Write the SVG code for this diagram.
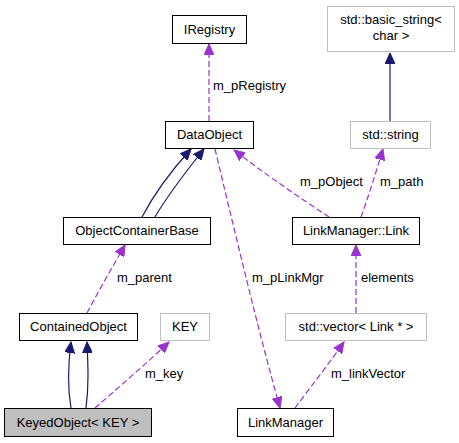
<svg xmlns="http://www.w3.org/2000/svg" width="459" height="443" viewBox="0 0 459 443">
<style>
text{font-family:"Liberation Sans",Arial,sans-serif;font-size:13px;fill:#000}
.n rect{fill:#fff;stroke:#000;stroke-width:1}
.g rect{fill:#fff;stroke:#bfbfbf;stroke-width:1}
.cur rect{fill:#bfbfbf;stroke:#000}
.inh{fill:none;stroke:#191970;stroke-width:1.2}
.use{fill:none;stroke:#9a32cd;stroke-width:1.2;stroke-dasharray:6,3}
.m text{text-anchor:middle}
</style>
<defs>
<marker id="ai" markerUnits="userSpaceOnUse" markerWidth="12" markerHeight="10" refX="11" refY="5" orient="auto">
<path d="M0,0 L11,5 L0,10 Z" fill="#191970" stroke="#191970" stroke-width="1"/>
</marker>
<marker id="au" markerUnits="userSpaceOnUse" markerWidth="12" markerHeight="10" refX="11" refY="5" orient="auto">
<path d="M0,0 L11,5 L0,10 Z" fill="#9a32cd" stroke="#9a32cd" stroke-width="1"/>
</marker>
</defs>
<rect width="459" height="443" fill="#fff"/>
<g id="edges">
<path class="use" d="M209,121 L209,44" marker-end="url(#au)"/>
<path class="inh" d="M390,121 L390,53" marker-end="url(#ai)"/>
<path class="inh" d="M142,217 C152,198 170,172 191,149" marker-end="url(#ai)"/>
<path class="inh" d="M155,217 C166,198 184,174 204,149" marker-end="url(#ai)"/>
<path class="use" d="M329,217 C300,198 262,172 234,150" marker-end="url(#au)"/>
<path class="use" d="M361,217 C368,198 376,172 383,149" marker-end="url(#au)"/>
<path class="use" d="M215,149 C232,220 258,330 280,408" marker-end="url(#au)"/>
<path class="use" d="M356,313 L356,245" marker-end="url(#au)"/>
<path class="use" d="M87,313 C98,292 113,266 125,245" marker-end="url(#au)"/>
<path class="inh" d="M71,408 C67,385 68,365 71,342" marker-end="url(#ai)"/>
<path class="inh" d="M86,408 C89,385 88,365 87,342" marker-end="url(#ai)"/>
<path class="use" d="M95,408 C118,388 148,362 169,342" marker-end="url(#au)"/>
<path class="use" d="M295,408 C310,388 330,362 344,342" marker-end="url(#au)"/>
<text x="213" y="90">m_pRegistry</text>
<text x="300" y="186">m_pObject</text>
<text x="380" y="186">m_path</text>
<text x="117" y="282">m_parent</text>
<text x="252" y="282">m_pLinkMgr</text>
<text x="361" y="282">elements</text>
<text x="145" y="378">m_key</text>
<text x="331" y="378">m_linkVector</text>
</g>
<g id="IRegistry" class="n m"><rect x="172.5" y="15.5" width="74" height="28"/><text x="209.5" y="34">IRegistry</text></g>
<g id="basic_string" class="g m"><rect x="327.5" y="6.5" width="127" height="45"/><text x="391" y="24">std::basic_string&lt;</text><text x="391" y="40">char &gt;</text></g>
<g id="DataObject" class="n m"><rect x="165.5" y="121.5" width="88" height="27"/><text x="209.5" y="139">DataObject</text></g>
<g id="string" class="g m"><rect x="350.5" y="121.5" width="80" height="27"/><text x="390.5" y="139">std::string</text></g>
<g id="ObjectContainerBase" class="n m"><rect x="63.5" y="217.5" width="147" height="27"/><text x="137" y="235">ObjectContainerBase</text></g>
<g id="Link" class="n m"><rect x="292.5" y="217.5" width="127" height="27"/><text x="356" y="235">LinkManager::Link</text></g>
<g id="ContainedObject" class="n m"><rect x="19.5" y="313.5" width="118" height="27"/><text x="78.5" y="331">ContainedObject</text></g>
<g id="KEY" class="g m"><rect x="160.5" y="313.5" width="49" height="27"/><text x="185" y="331">KEY</text></g>
<g id="vector" class="g m"><rect x="285.5" y="313.5" width="141" height="27"/><text x="356" y="331">std::vector&lt; Link * &gt;</text></g>
<g id="KeyedObject" class="cur m"><rect x="4.5" y="408.5" width="147" height="28"/><text x="78" y="427">KeyedObject&lt; KEY &gt;</text></g>
<g id="LinkManager" class="n m"><rect x="237.5" y="408.5" width="96" height="28"/><text x="285.5" y="427">LinkManager</text></g>
</svg>
